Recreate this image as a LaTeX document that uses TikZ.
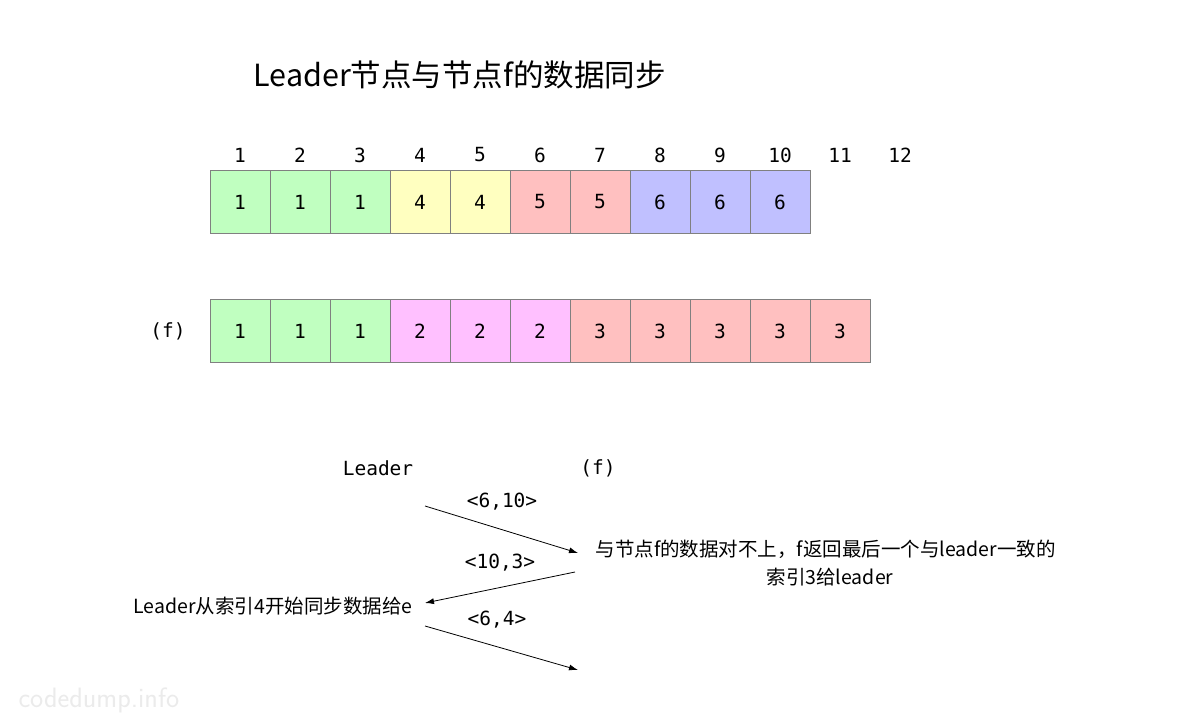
\documentclass[tikz,border=0pt]{standalone}
\usepackage{fontspec}
\setmonofont{DejaVu Sans Mono}
\newfontfamily\cjk{Noto Sans CJK SC}
\usetikzlibrary{arrows.meta}
\definecolor{cg}{HTML}{C0FFC0}
\definecolor{cy}{HTML}{FFFFC0}
\definecolor{cr}{HTML}{FFC0C0}
\definecolor{cb}{HTML}{C0C0FF}
\definecolor{cp}{HTML}{FFC0FF}
\definecolor{bd}{HTML}{808080}
\begin{document}
\begin{tikzpicture}[x=1pt,y=-1pt,
  cell/.style={draw=bd,line width=1pt,minimum width=60pt,minimum height=63pt,inner sep=0pt,font=\fontsize{19.5}{22}\ttfamily},
  mono/.style={font=\fontsize{19.5}{22}\ttfamily},
  zh/.style={font=\fontsize{19.5}{22}\cjk},
  arr/.style={-{Latex[length=9pt,width=6pt]},line width=0.8pt}]
\useasboundingbox[fill=white] (0,0) rectangle (1200,720);
\node[font=\fontsize{30.5}{34}\cjk,anchor=west] (title) at (250,75) {Leader节点与节点f的数据同步};
\foreach \i/\c/\v in {1/cg/1,2/cg/1,3/cg/1,4/cy/4,5/cy/4,6/cr/5,7/cr/5,8/cb/6,9/cb/6,10/cb/6}{
  \node[cell,fill=\c] (a\i) at ({180+60*\i},202) {\v};}
\foreach \i in {1,...,12}{\node[mono] (n\i) at ({180+60*\i},155) {\i};}
\foreach \i/\c/\v in {1/cg/1,2/cg/1,3/cg/1,4/cp/2,5/cp/2,6/cp/2,7/cr/3,8/cr/3,9/cr/3,10/cr/3,11/cr/3}{
  \node[cell,fill=\c] (b\i) at ({180+60*\i},331) {\v};}
\node[mono] (fl) at (168,331) {(f)};
\node[mono] (L) at (378,468) {Leader};
\node[mono] (F) at (598,468) {(f)};
\coordinate (p1) at (425,506); \coordinate (p2) at (578,553);
\coordinate (p3) at (575,572); \coordinate (p4) at (425,603);
\coordinate (p5) at (425,626); \coordinate (p6) at (578,670);
\draw[arr] (p1) -- (p2);
\draw[arr] (p3) -- (p4);
\draw[arr] (p5) -- (p6);
\node[mono] (l1) at (502,502) {<6,10>};
\node[mono] (l2) at (500,563) {<10,3>};
\node[mono] (l3) at (497,620) {<6,4>};
\node[zh,anchor=west] (r1) at (592,549) {与节点f的数据对不上，f返回最后一个与leader一致的};
\node[zh] (r2) at (830,577) {索引3给leader};
\node[zh,anchor=east] (lt) at (416,606) {Leader从索引4开始同步数据给e};
\node[font=\fontsize{28}{28}\sffamily,text=black!8,anchor=west] (wm) at (15,700) {codedump.info};
\end{tikzpicture}
\end{document}
